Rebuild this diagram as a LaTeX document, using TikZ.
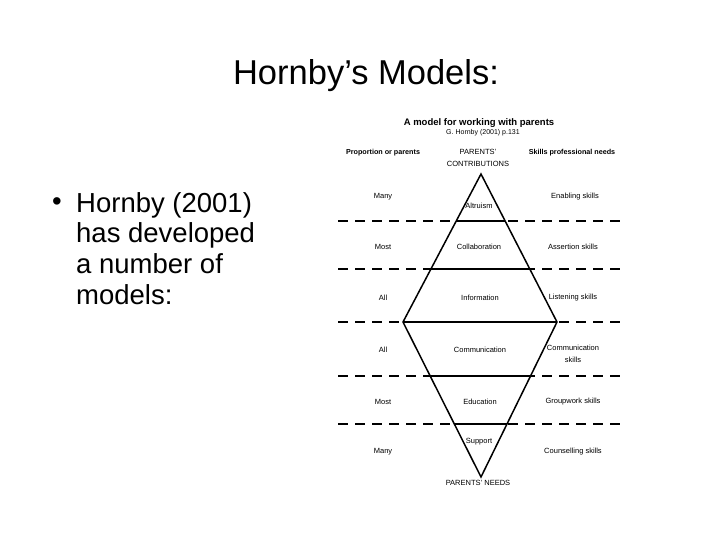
\documentclass[tikz,border=0pt]{standalone}
\usepackage{fontspec}
\setmainfont{Liberation Sans}
\begin{document}
\begin{tikzpicture}[x=1pt,y=-1pt,
  small/.style={font=\fontsize{7.5}{12}\selectfont, inner sep=0pt, align=center},
  head/.style={font=\bfseries\fontsize{7.2}{10}\selectfont, inner sep=0pt},
  rowline/.style={line width=2pt, dash pattern=on 10pt off 7pt},
  edge/.style={line width=1.5pt}]
\useasboundingbox (0,0) rectangle (720,540);
\node[anchor=base, inner sep=0pt, font=\fontsize{34.5}{40}\selectfont] (title) at (366,85) {Hornby’s Models:};
\node[inner sep=0pt, font=\fontsize{27.5}{30.7}\selectfont] (dot) at (57,204) {•};
\node[anchor=north west, inner sep=0pt, align=left, font=\fontsize{27.5}{30.7}\selectfont] (bullet) at (76,192)
  {Hornby (2001)\\has developed\\a number of\\models:};

\node[font=\bfseries\fontsize{9.5}{10}\selectfont, inner sep=0pt] (model) at (479,123) {A model for working with parents};
\node[font=\fontsize{7}{8}\selectfont, inner sep=0pt] (cite) at (483,133) {G. Hornby (2001) p.131};
\node[head] (hprop) at (383,153) {Proportion or parents};
\node[small] (hcontr) at (478,158) {PARENTS'\\CONTRIBUTIONS};
\node[head] (hskill) at (572,153) {Skills professional needs};

\coordinate (top) at (481,174);
\coordinate (left) at (403,322);
\coordinate (right) at (557,322);
\coordinate (bot) at (481,477);
\foreach \y in {221,269,322,376,424}
  \draw[rowline] (338,\y) -- (622,\y);
\begin{scope}
  \clip (top) -- (left) -- (bot) -- (right) -- cycle;
  \foreach \y in {221,269,322,376,424}
    \draw[line width=2pt] (338,\y) -- (622,\y);
\end{scope}
\draw[edge, line join=miter] (top) -- (left) -- (bot) -- (right) -- cycle;

\node[small] (p1) at (383,197) {Many};
\node[small] (c1) at (479,206) {Altruism};
\node[small] (s1) at (575,197) {Enabling skills};
\node[small] (p2) at (383,247) {Most};
\node[small] (c2) at (479,247) {Collaboration};
\node[small] (s2) at (573,247) {Assertion skills};
\node[small] (p3) at (383,298) {All};
\node[small] (c3) at (480,298) {Information};
\node[small] (s3) at (573,298) {Listening skills};
\node[small] (p4) at (383,350) {All};
\node[small] (c4) at (480,350) {Communication};
\node[small] (s4) at (573,354) {Communication\\skills};
\node[small] (p5) at (383,402) {Most};
\node[small] (c5) at (480,402) {Education};
\node[small] (s5) at (573,402) {Groupwork skills};
\node[small] (p6) at (383,452) {Many};
\node[small] (c6) at (479,442) {Support};
\node[small] (s6) at (573,452) {Counselling skills};
\node[small] (needs) at (478,483) {PARENTS' NEEDS};
\end{tikzpicture}
\end{document}
